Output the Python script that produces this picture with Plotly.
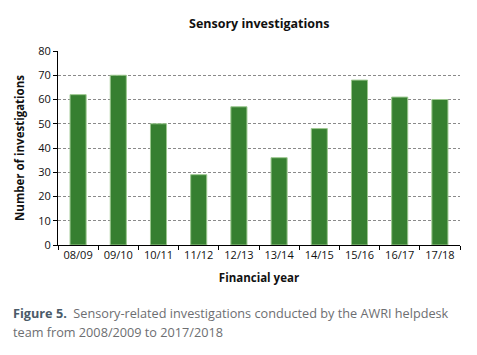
import plotly.graph_objects as go

years = ["08/09", "09/10", "10/11", "11/12", "12/13", "13/14", "14/15", "15/16", "16/17", "17/18"]
investigations = [62, 70, 50, 29, 57, 36, 48, 68, 61, 60]
y_ticks = [0, 10, 20, 30, 40, 50, 60, 70, 80]

W, H = 477, 355
ml, mr, mt, mb = 58, 17, 51, 110

fig = go.Figure()
fig.add_trace(go.Bar(
    x=years, y=investigations,
    marker=dict(color="#367f30", line=dict(color="#9cc88f", width=1)),
    width=0.4,
))

font = "Open Sans, Liberation Sans, sans-serif"
fig.update_layout(
    width=W, height=H,
    margin=dict(l=ml, r=mr, t=mt, b=mb, autoexpand=False),
    paper_bgcolor="white", plot_bgcolor="white",
    showlegend=False,
    font=dict(family=font, color="#111111", size=10),
)
fig.update_xaxes(
    automargin=False,
    showline=True, linecolor="black", linewidth=1,
    ticks="outside", ticklen=4, tickcolor="black",
    tickson="boundaries", showgrid=False,
    tickfont=dict(size=11, color="#111"),
    title=dict(text="<b>Financial year</b>", font=dict(size=11.5, color="#111"), standoff=12),
)
fig.update_yaxes(
    automargin=False,
    range=[0, 80], tickvals=y_ticks,
    showline=True, linecolor="black", linewidth=1,
    ticks="outside", ticklen=4, tickcolor="black",
    showgrid=True, gridcolor="#8a8a8a", griddash="3px,2px", gridwidth=1,
    zeroline=False,
    tickfont=dict(size=11, color="#111"),
    title=dict(text="<b>Number of investigations</b>", font=dict(size=11.5, color="#111"), standoff=11),
)

def py(px):
    return 1 - (px - mt) / (H - mt - mb)

def pxx(px):
    return (px - ml) / (W - ml - mr)

fig.add_annotation(text="<b>Sensory investigations</b>", xref="paper", yref="paper",
                   x=pxx(259), y=py(23), showarrow=False, font=dict(size=12.5, color="#111"),
                   xanchor="center", yanchor="middle")
fig.add_annotation(text="<b><span style='color:#4b5b69'>Figure 5.</span></b>  Sensory-related investigations conducted by the AWRI helpdesk",
                   xref="paper", yref="paper", x=pxx(11), y=py(313), showarrow=False,
                   font=dict(size=12.7, color="#6d6e71"), xanchor="left", yanchor="middle")
fig.add_annotation(text="team from 2008/2009 to 2017/2018",
                   xref="paper", yref="paper", x=pxx(11), y=py(332), showarrow=False,
                   font=dict(size=12.7, color="#6d6e71"), xanchor="left", yanchor="middle")

fig.write_html("out.html", config={"displayModeBar": False},
               post_script="document.body.style.margin='0';")
